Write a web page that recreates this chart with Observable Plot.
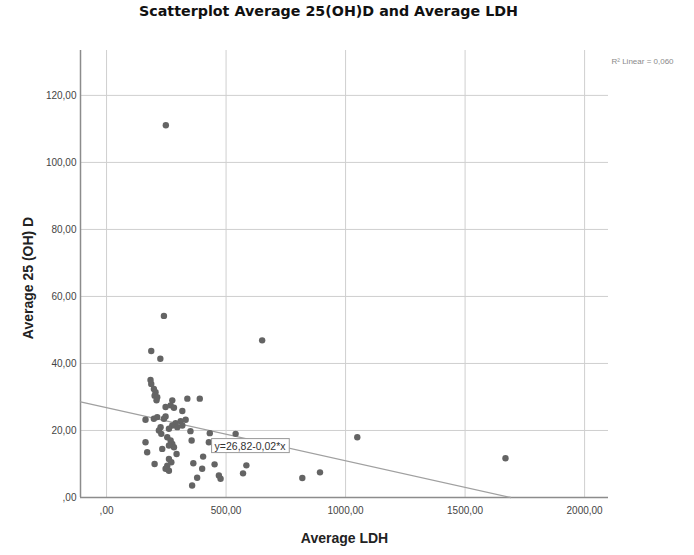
<!DOCTYPE html>
<html>
<head>
<meta charset="utf-8">
<script src="https://cdn.jsdelivr.net/npm/d3@7"></script>
<script src="https://cdn.jsdelivr.net/npm/@observablehq/plot@0.6"></script>
<style>
  html, body { margin: 0; padding: 0; background: #fff; }
  #chart { width: 694px; height: 555px; }
  svg { font-family: "Liberation Sans", Arial, sans-serif; }
</style>
</head>
<body>
<div id="chart"></div>
<script>
// Average LDH (x) and Average 25(OH)D (y)
const ldh = [248, 240, 187, 225, 651,
  184, 187, 198, 205, 201, 212, 209, 275, 338, 390,
  247, 268, 282, 317,
  163, 198, 212, 240, 247,
  289, 310, 331, 275, 261, 296, 317,
  226, 219, 229, 351, 432, 540,
  254, 268, 275, 282, 261, 356, 163, 428,
  233, 293, 170,
  261, 271, 254, 247, 261, 404, 201, 363, 452, 400,
  470, 477, 379, 358,
  585, 571, 819, 893, 1049, 1669];
const vitD = [111.1, 54.2, 43.7, 41.4, 46.9,
  35.1, 33.9, 32.4, 31.4, 30.4, 29.9, 29.0, 29.0, 29.5, 29.5,
  27.0, 27.5, 26.8, 25.8,
  23.2, 23.5, 24.0, 23.5, 24.2,
  22.2, 22.8, 23.2, 21.5, 20.5, 21.0, 21.5,
  21.0, 20.0, 19.0, 19.8, 19.2, 19.0,
  18.0, 17.0, 16.0, 15.0, 15.5, 17.0, 16.5, 16.5,
  14.5, 13.0, 13.5,
  11.5, 10.5, 9.5, 8.6, 8.0, 12.2, 10.0, 10.2, 9.9, 8.6,
  6.6, 5.6, 5.9, 3.6,
  9.6, 7.2, 5.8, 7.5, 18.0, 11.7];

const xTicks = [0, 500, 1000, 1500, 2000];
const yTicks = [0, 20, 40, 60, 80, 100, 120];
const xDomain = [-109, 2100];
const yDomain = [0, 133.4];

// linear fit y = intercept + slope * x  (shown as y=26,82-0,02*x)
const intercept = 26.82;
const slope = -0.01587;
const fitLabel = "y=26,82-0,02*x";
const fitLabelAt = [{x: 452, y: 15.3}];
const r2Label = "R\u00b2 Linear = 0,060";

const titleText = "Scatterplot Average 25(OH)D and Average LDH";
const xLabel = "Average LDH";
const yLabel = "Average 25 (OH) D";

const points = ldh.map((x, i) => ({x, y: vitD[i]}));
const xEnd = -intercept / slope;
const fitLine = [xDomain[0], xEnd].map(x => ({x, y: intercept + slope * x}));

const fmt = d => d === 0 ? ",00" : d.toFixed(2).replace(".", ",");

const plot = Plot.plot({
  width: 694,
  height: 555,
  marginTop: 50,
  marginBottom: 58,
  marginLeft: 80,
  marginRight: 86,
  x: {domain: xDomain},
  y: {domain: yDomain},
  marks: [
    Plot.gridX(xTicks, {stroke: "#cfcfcf", strokeOpacity: 1, strokeWidth: 1}),
    Plot.gridY(yTicks.slice(1), {stroke: "#cfcfcf", strokeOpacity: 1, strokeWidth: 1}),
    Plot.axisX(xTicks, {tickSize: 0, tickPadding: 9, tickFormat: fmt, fontSize: 10, fill: "#444", label: null}),
    Plot.axisY(yTicks, {tickSize: 0, tickPadding: 4, tickFormat: fmt, fontSize: 10, fill: "#444", label: null}),
    Plot.ruleY([0], {stroke: "#8c8c8c", strokeWidth: 1.5}),
    Plot.ruleX([xDomain[0]], {stroke: "#8c8c8c", strokeWidth: 1.5}),
    Plot.line(fitLine, {x: "x", y: "y", stroke: "#a0a0a0", strokeWidth: 1.3}),
    Plot.dot(points, {x: "x", y: "y", r: 3.2, fill: "#646464", stroke: "none"}),
    Plot.text(fitLabelAt, {x: "x", y: "y", text: () => fitLabel, textAnchor: "start", fontSize: 10.5, fill: "#333", className: "fitlabel"}),
    Plot.text([r2Label], {frameAnchor: "top-right", textAnchor: "start", lineAnchor: "middle", dx: 3, dy: 11, fontSize: 8, fill: "#8a8a8a"}),
    Plot.text([titleText], {frameAnchor: "top", dx: -16, dy: -44, fontSize: 14, fontWeight: "bold", fill: "#111", fontFamily: "DejaVu Sans", className: "charttitle"}),
    Plot.text([xLabel], {frameAnchor: "bottom", lineAnchor: "middle", dy: 41, fontSize: 14, fontWeight: "bold", fill: "#222"}),
    Plot.text([yLabel], {frameAnchor: "left", textAnchor: "middle", lineAnchor: "middle", dx: -52, dy: 4, rotate: -90, fontSize: 14, fontWeight: "bold", fill: "#222"})
  ]
});

document.getElementById("chart").appendChild(plot);

// stretch the title to the width it has in the reference
const tt = plot.querySelector("g.charttitle text");
if (tt) {
  tt.setAttribute("textLength", 379);
  tt.setAttribute("lengthAdjust", "spacingAndGlyphs");
}

// white box with gray border around the fit label
const g = plot.querySelector("g.fitlabel");
if (g) {
  const t = g.querySelector("text");
  const b = t.getBBox();
  const rect = document.createElementNS("http://www.w3.org/2000/svg", "rect");
  rect.setAttribute("x", b.x - 3);
  rect.setAttribute("y", b.y - 1);
  rect.setAttribute("width", b.width + 6);
  rect.setAttribute("height", b.height + 2);
  rect.setAttribute("fill", "#fff");
  rect.setAttribute("stroke", "#9a9a9a");
  rect.setAttribute("stroke-width", "1");
  const tr = t.getAttribute("transform");
  if (tr) rect.setAttribute("transform", tr);
  g.insertBefore(rect, t);
}
</script>
</body>
</html>
